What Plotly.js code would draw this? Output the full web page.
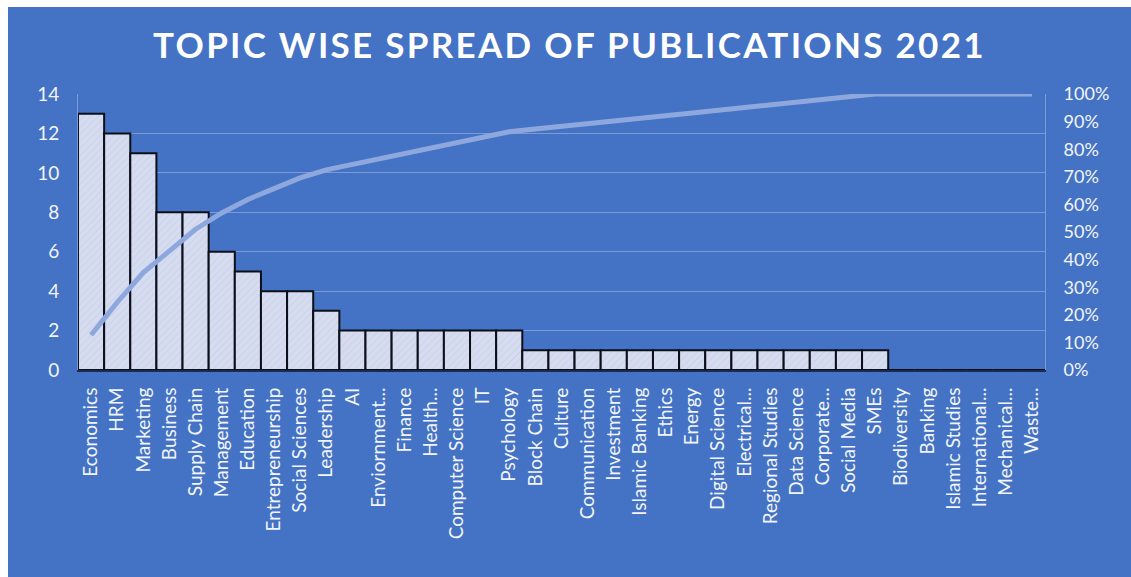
<!DOCTYPE html>
<html>
<head>
<meta charset="utf-8">
<script src="https://cdn.plot.ly/plotly-3.0.1.min.js"></script>
<style>
  html, body { margin: 0; padding: 0; background: #ffffff; }
  #chart { position: absolute; left: 8px; top: 7px; width: 1123px; height: 570px; }
  .gtitle { letter-spacing: 2.3px; }
</style>
</head>
<body>
<div id="chart"></div>
<script>
const categories = ["Economics","HRM","Marketing","Business","Supply Chain","Management","Education","Entrepreneurship","Social Sciences","Leadership","AI","Enviornment...","Finance","Health...","Computer Science","IT","Psychology","Block Chain","Culture","Communication","Investment","Islamic Banking","Ethics","Energy","Digital Science","Electrical...","Regional Studies","Data Science","Corporate...","Social Media","SMEs","Biodiversity","Banking","Islamic Studies","International...","Mechanical...","Waste..."];
const publications = [13,12,11,8,8,6,5,4,4,3,2,2,2,2,2,2,2,1,1,1,1,1,1,1,1,1,1,1,1,1,1,0,0,0,0,0,0];
const cumulativePct = [0.127,0.245,0.353,0.431,0.510,0.569,0.618,0.657,0.696,0.725,0.745,0.765,0.784,0.804,0.824,0.843,0.863,0.873,0.882,0.892,0.902,0.912,0.922,0.931,0.941,0.951,0.961,0.971,0.980,0.990,1.0,1.0,1.0,1.0,1.0,1.0,1.0];
const leftTicks = [0,2,4,6,8,10,12,14];
const rightTicks = [0,0.1,0.2,0.3,0.4,0.5,0.6,0.7,0.8,0.9,1.0];
const chartTitle = "TOPIC WISE SPREAD OF PUBLICATIONS 2021";

const labelColor = "#F2F5FB";
const gridColor = "#7B9AD6";
const fontFam = "Lato, 'Open Sans', sans-serif";

const bars = {
  type: "bar",
  x: categories,
  y: publications,
  marker: {
    color: "#D6DCEF",
    line: { color: "#0B0F1A", width: 2 },
    pattern: { shape: "/", fgcolor: "#C2CBE6", bgcolor: "#D6DCEF", size: 5, solidity: 0.15 }
  },
  hoverinfo: "x+y",
  showlegend: false
};

const pareto = {
  type: "scatter",
  mode: "lines",
  x: categories,
  y: cumulativePct,
  yaxis: "y2",
  line: { color: "#8EA8DE", width: 5, shape: "linear" },
  showlegend: false
};

const layout = {
  width: 1123,
  height: 570,
  paper_bgcolor: "#4472C4",
  plot_bgcolor: "#4472C4",
  margin: { l: 70, r: 86, t: 87, b: 207 },
  bargap: 0,
  title: {
    text: chartTitle,
    font: { family: fontFam, size: 35, color: "#FFFFFF", weight: "bold" },
    x: 0.5, xanchor: "center",
    y: 1 - 39/570, yanchor: "middle", yref: "container"
  },
  xaxis: {
    type: "category",
    tickangle: -90,
    tickfont: { family: fontFam, size: 19, color: labelColor },
    showgrid: false,
    showline: true,
    linecolor: "#1C2A4F",
    linewidth: 2,
    ticks: "",
    ticklabelstandoff: 8,
    range: [-0.5, categories.length - 0.5],
    fixedrange: true
  },
  yaxis: {
    range: [0, 14],
    tickvals: leftTicks,
    tickfont: { family: fontFam, size: 19, color: labelColor },
    showgrid: true,
    gridcolor: gridColor,
    gridwidth: 1,
    showline: true,
    linecolor: gridColor,
    linewidth: 1,
    zeroline: false,
    ticks: "",
    ticklabelstandoff: 14
  },
  yaxis2: {
    overlaying: "y",
    side: "right",
    range: [0, 1],
    tickvals: rightTicks,
    tickformat: ".0%",
    tickfont: { family: fontFam, size: 18, color: labelColor },
    showgrid: false,
    showline: true,
    linecolor: gridColor,
    linewidth: 1,
    zeroline: false,
    ticks: "",
    ticklabelstandoff: 14
  }
};

Plotly.newPlot("chart", [bars, pareto], layout, { displayModeBar: false, staticPlot: true });
</script>
</body>
</html>
